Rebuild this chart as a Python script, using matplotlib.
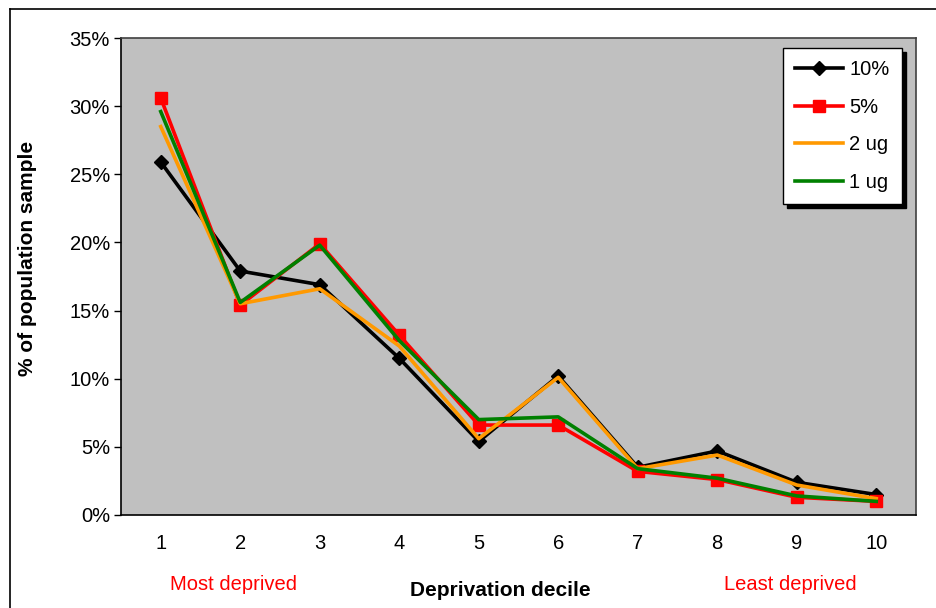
import matplotlib
matplotlib.use("Agg")
import matplotlib.pyplot as plt
from matplotlib.lines import Line2D
from matplotlib.ticker import FuncFormatter

plt.rcParams["font.family"] = ["Liberation Sans", "DejaVu Sans"]

deciles = [1, 2, 3, 4, 5, 6, 7, 8, 9, 10]
pct_10 = [25.9, 17.9, 16.9, 11.5, 5.4, 10.2, 3.5, 4.7, 2.4, 1.5]
pct_5 = [30.6, 15.4, 19.9, 13.2, 6.6, 6.6, 3.2, 2.6, 1.3, 1.0]
ug_2 = [28.5, 15.5, 16.6, 12.4, 5.6, 10.1, 3.4, 4.4, 2.2, 1.2]
ug_1 = [29.6, 15.6, 19.8, 12.8, 7.0, 7.2, 3.4, 2.7, 1.4, 1.0]
y_ticks = [0, 5, 10, 15, 20, 25, 30, 35]


def main():
    fig = plt.figure(figsize=(9.36, 6.08), dpi=100)
    ax = fig.add_axes([121 / 936, 93 / 608, 795 / 936, 477 / 608])
    ax.set_facecolor("#C0C0C0")

    ax.plot(deciles, pct_10, color="black", lw=2.6, marker="D", ms=7,
            label="10%")
    ax.plot(deciles, pct_5, color="#FF0000", lw=2.6, marker="s", ms=8,
            label="5%")
    ax.plot(deciles, ug_2, color="#FF9900", lw=2.6, label="2 ug")
    ax.plot(deciles, ug_1, color="#008000", lw=2.6, label="1 ug")

    ax.set_xlim(0.5, 10.5)
    ax.set_ylim(0, 35)
    ax.set_xticks(deciles)
    ax.set_yticks(y_ticks)
    ax.yaxis.set_major_formatter(FuncFormatter(lambda v, p: f"{v:.0f}%"))
    ax.tick_params(axis="x", length=0, labelsize=14.5, pad=14)
    ax.tick_params(axis="y", length=5, width=1, labelsize=14.5, pad=3)
    for side in ["left", "bottom"]:
        ax.spines[side].set_color("black")
        ax.spines[side].set_linewidth(1.2)
    for side in ["top", "right"]:
        ax.spines[side].set_color("#404040")
        ax.spines[side].set_linewidth(1.2)

    leg = ax.legend(loc="upper right", bbox_to_anchor=(0.982, 0.979),
                    fontsize=14.5, frameon=True, fancybox=False,
                    shadow={"color": "black", "alpha": 1, "ox": 3, "oy": -3},
                    edgecolor="black", framealpha=1, borderaxespad=0,
                    handlelength=2.4, labelspacing=0.92, numpoints=1,
                    handletextpad=0.3, borderpad=0.6)
    leg.get_frame().set_linewidth(1.0)

    fig.text(28 / 936, 1 - 258 / 608, "% of population sample",
             rotation=90, ha="center", va="center", fontsize=15,
             fontweight="bold")
    fig.text(500 / 936, 1 - 590 / 608, "Deprivation decile", ha="center",
             va="center", fontsize=15, fontweight="bold")
    fig.text(234 / 936, 1 - 584 / 608, "Most deprived", ha="center",
             va="center", fontsize=14.5, color="#FF0000")
    fig.text(790 / 936, 1 - 584 / 608, "Least deprived", ha="center",
             va="center", fontsize=14.5, color="#FF0000")

    # outer chart border (runs off the right and bottom edges)
    y_top = 1 - 9 / 608
    x_left = 10 / 936
    fig.add_artist(Line2D([x_left, 1.0], [y_top, y_top], color="black",
                          lw=1.2, transform=fig.transFigure))
    fig.add_artist(Line2D([x_left, x_left], [0.0, y_top], color="black",
                          lw=1.2, transform=fig.transFigure))

    fig.savefig("out.png", dpi=100)


if __name__ == "__main__":
    main()
